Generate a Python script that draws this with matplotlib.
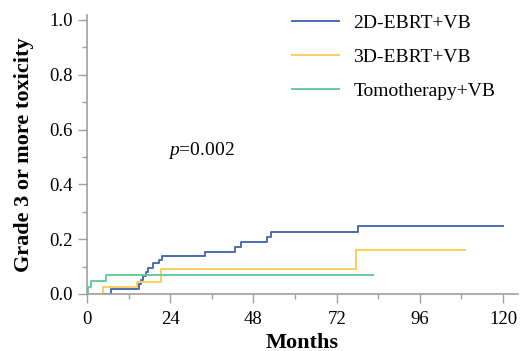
import matplotlib
matplotlib.use('Agg')
import matplotlib.pyplot as plt
from matplotlib.ticker import MultipleLocator

plt.rcParams['font.family'] = ['Liberation Serif', 'DejaVu Serif']
plt.rcParams['mathtext.fontset'] = 'custom'
plt.rcParams['mathtext.rm'] = 'Liberation Serif'
plt.rcParams['mathtext.it'] = 'Liberation Serif:italic'

# cumulative incidence of grade >= 3 toxicity
t_2d = [0, 7, 15, 15.6, 16.2, 17, 17.6, 18.9, 20.8, 21.5, 34, 42.8, 44.3, 52, 53.2, 78.3, 120]
y_2d = [0, 0.02, 0.035, 0.05, 0.066, 0.08, 0.095, 0.112, 0.124, 0.139, 0.154, 0.173, 0.189,
        0.208, 0.226, 0.249, 0.249]
t_3d = [0, 4.7, 14.3, 21.3, 77.6, 109]
y_3d = [0, 0.024, 0.045, 0.09, 0.16, 0.16]
t_tomo = [0, 0.2, 1.2, 5.4, 82.4]
y_tomo = [0, 0.024, 0.047, 0.069, 0.069]

labels = ['2D-EBRT+VB', '3D-EBRT+VB', 'Tomotherapy+VB']
colors = ['#4c6cb3', '#f8cf5a', '#66cc9f']
p_text = '$p$=0.002'

W, H = 524, 351
fig = plt.figure(figsize=(W / 100, H / 100), dpi=100)
ax = fig.add_axes([87 / W, 1 - 294 / H, (518 - 87) / W, (294 - 15) / H])

for t, y, lab, c in zip([t_2d, t_3d, t_tomo], [y_2d, y_3d, y_tomo], labels, colors):
    ax.step(t, y, where='post', color=c, lw=1.4, label=lab)

ax.set_xlim(0, 124.3)
ax.set_ylim(0, 1.018)
ax.xaxis.set_major_locator(MultipleLocator(24))
ax.xaxis.set_minor_locator(MultipleLocator(12))
ax.yaxis.set_major_locator(MultipleLocator(0.2))
ax.yaxis.set_minor_locator(MultipleLocator(0.1))
ax.yaxis.set_major_formatter(lambda v, pos: f'{v:.1f}')

for s in ['top', 'right']:
    ax.spines[s].set_visible(False)
for s in ['left', 'bottom']:
    ax.spines[s].set_color('#a0a0a0')
    ax.spines[s].set_linewidth(1.2)
    ax.spines[s].set_zorder(3)
ax.tick_params(which='major', length=6.5, width=1.0, color='#a0a0a0', labelsize=13.5)
ax.tick_params(which='minor', length=3.6, width=1.0, color='#a0a0a0')
ax.tick_params(axis='x', which='major', pad=6)
ax.tick_params(axis='y', which='major', pad=4)

ax.set_xlabel('Months', fontsize=16, fontweight='bold', labelpad=3)
ax.set_ylabel('Grade 3 or more toxicity', fontsize=16, fontweight='bold', labelpad=11)

ax.text(23.3, 0.525, p_text, fontsize=14, va='center', ha='left')

fig.legend(loc='upper left', bbox_to_anchor=(292 / W, 1 - 14 / H), frameon=False,
           fontsize=14, handlelength=2.4, handletextpad=0.75, labelspacing=0.85,
           borderpad=0, borderaxespad=0)

fig.savefig('out.png', dpi=100)
